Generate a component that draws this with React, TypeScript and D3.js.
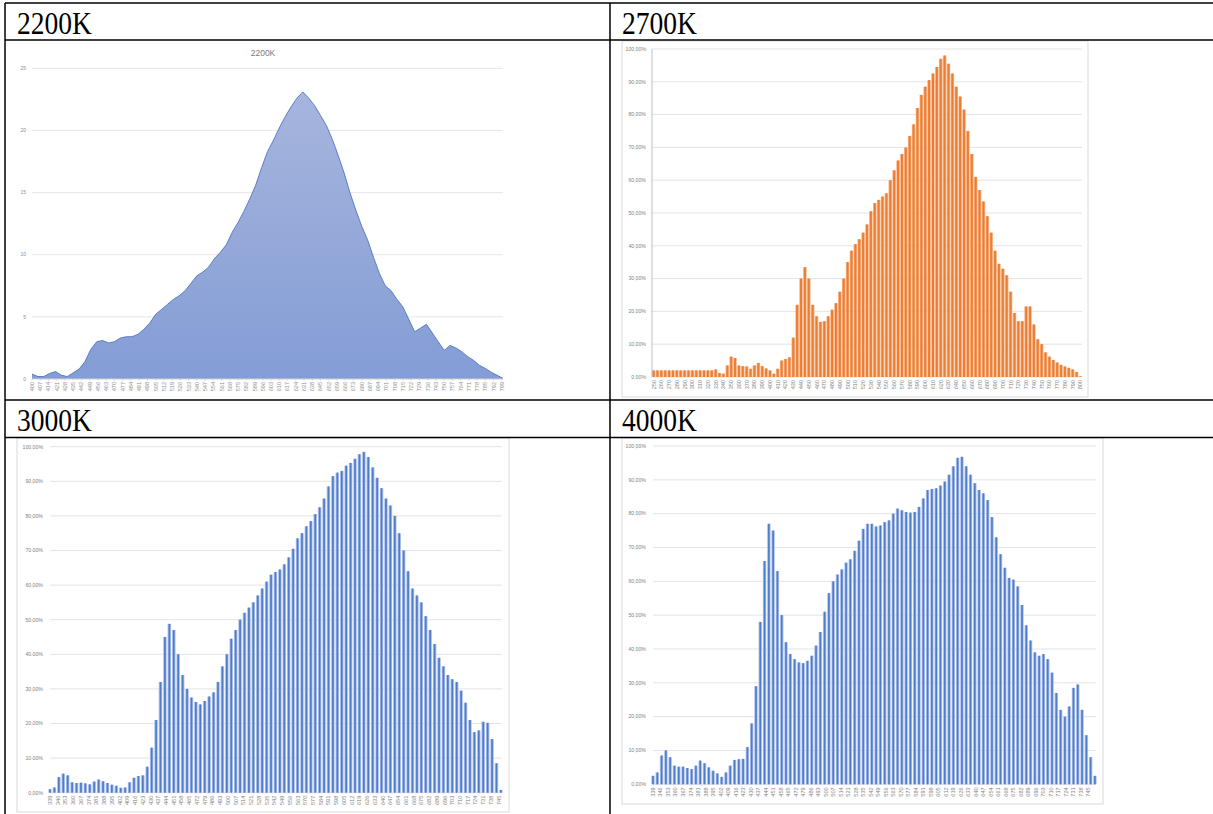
import * as d3 from 'd3'

// spectra, one value per wavelength step
const wl2200 = d3.range(400, 801, 5)
const val2200 = [
  0.4, 0.2, 0.2, 0.45, 0.6, 0.3, 0.2, 0.5, 0.8, 1.4,
  2.4, 3.0, 3.1, 2.9, 3.0, 3.3, 3.4, 3.4, 3.6, 4.0,
  4.5, 5.2, 5.6, 6.0, 6.4, 6.7, 7.1, 7.7, 8.3, 8.6,
  9.0, 9.7, 10.2, 10.8, 11.8, 12.6, 13.5, 14.5, 15.6, 17.0,
  18.3, 19.2, 20.2, 21.1, 21.9, 22.6, 23.1, 22.6, 22.0, 21.2,
  20.4, 19.3, 18.0, 16.6, 15.0, 13.6, 12.3, 11.2, 9.8, 8.5,
  7.5, 7.1, 6.4, 5.8, 4.8, 3.8, 4.1, 4.4, 3.7, 3.0,
  2.3, 2.7, 2.5, 2.2, 1.8, 1.5, 1.1, 0.85, 0.55, 0.3,
  0.05
]

const wl2700 = d3.range(250, 801, 5)
const val2700 = [
  2, 2, 2, 2, 2, 2, 2, 2, 2, 2,
  2, 2, 2, 2, 2, 2, 2.3, 1.2, 1.0, 3.5,
  6.2, 5.8, 3.5, 3.3, 3.2, 2.5, 3.5, 4.3, 3.3, 2.6,
  2.0, 1.0, 2.5, 5.0, 5.5, 6.0, 12, 22, 30, 33.5,
  30, 22, 18.5, 16.8, 17, 18.5, 20.5, 22.5, 26, 30,
  35, 38.5, 40.5, 42, 44, 46.5, 50.5, 53, 54, 55,
  56, 60, 63, 66, 68, 70, 73.5, 77, 82, 86,
  88.5, 90.5, 92.5, 94.5, 97, 98, 95.5, 92.5, 88.5, 85.5,
  81.5, 75, 68, 61, 57, 53.5, 49, 44, 38.5, 34.5,
  33, 31, 26, 19.5, 17, 17, 21.5, 21.5, 16, 11.5,
  10, 7.5, 6.2, 5.2, 4.4, 3.7, 3.2, 2.8, 2.3, 1.5,
  0.2
]

const wl3000 = d3.range(339, 748, 4)
const val3000 = [
  1.0, 1.5, 4.5, 5.5, 5.0, 3.0, 2.8, 2.9, 2.7, 2.4,
  3.2, 3.8, 3.3, 2.8, 2.3, 2.0, 1.4, 1.5, 3.0, 4.3,
  4.8, 5.0, 7.5, 13, 21, 32, 45, 48.8, 47, 40,
  34, 30, 27.5, 26.2, 25.5, 26.5, 27.8, 29, 32, 36.5,
  40, 44.5, 47, 50, 52, 53.5, 55, 57, 59, 61,
  63, 63.8, 64.5, 66, 68, 70.5, 73.5, 75, 77, 78.5,
  80.5, 82.5, 85, 88.5, 91.5, 92.5, 93, 94.5, 95.3, 96.5,
  97.8, 98.5, 97, 94, 91, 88, 85, 83, 80, 75,
  70, 64, 59, 57, 55, 51, 47, 43, 39, 36.5,
  34, 32.8, 32, 29.5, 26, 21, 17.5, 18, 20.5, 20.2,
  15.5, 8.5, 0.8
]

const wl4000 = d3.range(339, 752, 4)
const val4000 = [
  2.5, 3.5, 8.5, 10, 8, 5.5, 5.2, 5.2, 4.8, 4.5,
  5.5, 7, 6.2, 5, 4, 3.2, 2.2, 3.5, 5.5, 7.2,
  7.4, 7.5, 11, 18, 29, 48, 66, 77, 75, 63,
  50, 42, 38.5, 37, 36, 35.8, 36.5, 38, 41, 45,
  51, 56.5, 60, 62, 63.5, 65.5, 66.5, 69, 72, 75.5,
  77, 77, 76.2, 76.5, 77.5, 78, 80, 81.5, 81, 80.5,
  80.3, 80.5, 82, 84.5, 87, 87.3, 87.5, 88.3, 89.5, 91.5,
  94, 96.5, 96.8, 94, 91.5, 89, 87, 86, 84, 79,
  73, 68, 64, 61, 60.5, 58.5, 53, 47, 42.5, 39,
  38, 38.5, 37, 33, 27, 22, 20, 23, 28.5, 29.5,
  22, 14.5, 8, 2.5
]

// axis ticks
const ticks2200Y = [0, 5, 10, 15, 20, 25]
const ticks2200X = d3.range(400, 800, 7)
const ticksPctY = [0, 10, 20, 30, 40, 50, 60, 70, 80, 90, 100]
const labelsPctY = ['0,00%', '10,00%', '20,00%', '30,00%', '40,00%', '50,00%', '60,00%', '70,00%', '80,00%', '90,00%', '100,00%']
const ticks2700X = d3.range(250, 801, 10)
const ticks3000X = d3.range(339, 750, 7)

const headers = ['2200K', '2700K', '3000K', '4000K']

const SANS = '"Liberation Sans", Arial, sans-serif'
const SERIF = '"Liberation Serif", "Times New Roman", serif'

const Header = ({ x, y, text }) => (
  <text x={x} y={y} fontFamily={SERIF} fontSize={31} textLength={75} lengthAdjust="spacingAndGlyphs" fill="#000">
    {text}
  </text>
)

const AreaPanel = () => {
  const x = d3.scaleLinear().domain([400, 800]).range([32, 503])
  const y = d3.scaleLinear().domain([0, 25]).range([379, 68.3])
  const pts = wl2200.map((w, i) => [w, val2200[i]] as [number, number])
  const area = d3.area<[number, number]>().x(d => x(d[0])).y0(y(0)).y1(d => y(d[1]))
  const line = d3.line<[number, number]>().x(d => x(d[0])).y(d => y(d[1]))
  return (
    <g>
      <defs>
        <linearGradient id="g2200" gradientUnits="userSpaceOnUse" x1={0} y1={y(25)} x2={0} y2={y(0)}>
          <stop offset="0" stopColor="#a9b7dd" />
          <stop offset="1" stopColor="#849dd6" />
        </linearGradient>
      </defs>
      <text x={263} y={56} textAnchor="middle" fontFamily={SANS} fontSize={8.5} fill="#7a7a7a">2200K</text>
      {ticks2200Y.map(t => (
        <g key={t}>
          {t > 0 && <line x1={32} x2={503} y1={y(t)} y2={y(t)} stroke="#e6e6e6" strokeWidth={1} />}
          <text x={26} y={y(t)} dy="0.35em" textAnchor="end" fontFamily={SANS} fontSize={5} fill="#8c8c8c">{t}</text>
        </g>
      ))}
      <path d={area(pts)} fill="url(#g2200)" />
      <path d={line(pts)} fill="none" stroke="#4f74c4" strokeWidth={0.9} />
      <line x1={32} x2={503} y1={y(0)} y2={y(0)} stroke="#d0d0d0" strokeWidth={1} />
      {ticks2200X.map(t => (
        <g key={t}>
          <line x1={x(t)} x2={x(t)} y1={y(0)} y2={y(0) + 2} stroke="#d0d0d0" strokeWidth={0.6} />
          <text transform={`translate(${x(t)},${y(0) + 3}) rotate(-90)`} dy="0.35em" textAnchor="end"
            fontFamily={SANS} fontSize={5.6} fill="#8c8c8c">{t}</text>
        </g>
      ))}
    </g>
  )
}

// bars: a light body with a darker core, mimicking the fine striping of the scaled-down source
const BarPanel = ({ wl, vals, step, xDomain, xRange, yRange, xTicks, box, light, dark, frac, core, labelRight, axisLine }) => {
  const x = d3.scaleLinear().domain(xDomain).range(xRange)
  const y = d3.scaleLinear().domain([0, 100]).range(yRange)
  const bw = Math.abs(x(step) - x(0))
  return (
    <g>
      <rect x={box[0]} y={box[1]} width={box[2] - box[0]} height={box[3] - box[1]} fill="#fff" stroke="#d9d9d9" strokeWidth={1} />
      {ticksPctY.map((t, i) => (
        <g key={t}>
          <line x1={xRange[0]} x2={xRange[1]} y1={y(t)} y2={y(t)} stroke="#e3e3e3" strokeWidth={1} />
          <text x={labelRight} y={y(t)} dy="0.35em" textAnchor="end" fontFamily={SANS} fontSize={5.2} fill="#7f7f7f">
            {labelsPctY[i]}
          </text>
        </g>
      ))}
      {wl.map((w, i) => vals[i] == null ? null : (
        <g key={w}>
          <rect x={x(w) - (bw * frac) / 2} width={bw * frac} y={y(vals[i])} height={y(0) - y(vals[i])} fill={light} />
          <rect x={x(w) - (bw * core) / 2} width={bw * core} y={y(vals[i])} height={y(0) - y(vals[i])} fill={dark} />
        </g>
      ))}
      {axisLine && <line x1={xRange[0]} x2={xRange[0]} y1={y(100)} y2={y(0)} stroke="#bfbfbf" strokeWidth={1} />}
      {xTicks.map(t => (
        <text key={t} transform={`translate(${x(t)},${y(0) + 3}) rotate(-90)`} dy="0.35em" textAnchor="end"
          fontFamily={SANS} fontSize={5.6} fill="#7f7f7f">{t}</text>
      ))}
    </g>
  )
}

export default function App() {
  return (
    <div style={{ position: 'absolute', left: 0, top: 0 }}>
      <svg width={1213} height={814} style={{ display: 'block', background: '#fff' }}>
        <AreaPanel />
        <BarPanel wl={wl2700} vals={val2700} step={5} xDomain={[248, 802]} xRange={[652, 1082]} yRange={[377, 49]}
          xTicks={ticks2700X} box={[622, 41, 1088, 397]} light="#f5b387" dark="#ed7d31" frac={0.9} core={0.5}
          labelRight={646} axisLine />
        <BarPanel wl={wl3000} vals={val3000} step={4} xDomain={[339, 748]} xRange={[50, 502]} yRange={[792.7, 446.7]}
          xTicks={ticks3000X} box={[17, 438, 509, 812]} light="#aec2ea" dark="#4f7bcb" frac={0.8} core={0.38}
          labelRight={43} axisLine={false} />
        <BarPanel wl={wl4000} vals={val4000} step={4} xDomain={[339, 752]} xRange={[653, 1096]} yRange={[784.3, 446]}
          xTicks={ticks3000X} box={[622, 438, 1103, 804]} light="#aec2ea" dark="#4f7bcb" frac={0.8} core={0.38}
          labelRight={646} axisLine={false} />

        {/* table rules */}
        <g stroke="#000" strokeWidth={1.5}>
          <line x1={5} x2={1213} y1={3} y2={3} />
          <line x1={5} x2={1213} y1={40} y2={40} />
          <line x1={5} x2={1213} y1={400} y2={400} />
          <line x1={5} x2={1213} y1={437.5} y2={437.5} />
          <line x1={5} x2={5} y1={3} y2={814} />
          <line x1={610} x2={610} y1={3} y2={814} />
        </g>
        <Header x={17} y={33.5} text={headers[0]} />
        <Header x={622} y={33.5} text={headers[1]} />
        <Header x={17} y={431} text={headers[2]} />
        <Header x={622} y={431} text={headers[3]} />
      </svg>
    </div>
  )
}
